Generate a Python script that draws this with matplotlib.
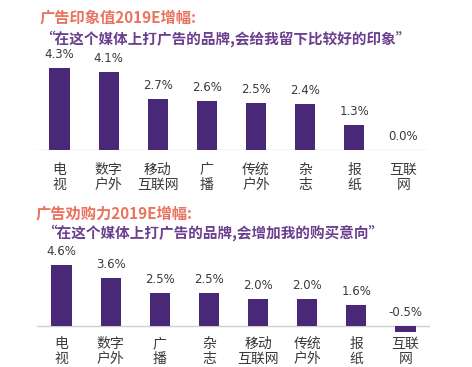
import matplotlib
matplotlib.use("Agg")
import matplotlib.pyplot as plt

plt.rcParams['font.family'] = ['Noto Sans CJK SC', 'DejaVu Sans']

# top chart data
top_title = "广告印象值2019E增幅:"
top_sub = "“在这个媒体上打广告的品牌,会给我留下比较好的印象”"
top_cats = ["电\n视", "数字\n户外", "移动\n互联网", "广\n播", "传统\n户外", "杂\n志", "报\n纸", "互联\n网"]
top_vals = [4.3, 4.1, 2.7, 2.6, 2.5, 2.4, 1.3, 0.0]

# bottom chart data
bot_title = "广告劝购力2019E增幅:"
bot_sub = "“在这个媒体上打广告的品牌,会增加我的购买意向”"
bot_cats = ["电\n视", "数字\n户外", "广\n播", "杂\n志", "移动\n互联网", "传统\n户外", "报\n纸", "互联\n网"]
bot_vals = [4.6, 3.6, 2.5, 2.5, 2.0, 2.0, 1.6, -0.5]

W, H = 472, 367
bar_color = "#4a2878"
title_color = "#e9735e"
sub_color = "#6a3f8e"
text_color = "#3a3a3a"

fig = plt.figure(figsize=(W / 100, H / 100), dpi=100)
fig.patch.set_facecolor("white")


def px_axes(left, top, right, bottom):
    return fig.add_axes([left / W, 1 - bottom / H, (right - left) / W, (bottom - top) / H])


def draw(ax, cats, vals, ylim, lab_off):
    x = range(len(vals))
    ax.bar(x, vals, width=0.41, color=bar_color)
    ax.set_xlim(-0.5, len(vals) - 0.5)
    ax.set_ylim(*ylim)
    ax.axhline(0, color="#cfcfcf", lw=1.0, zorder=0)
    for i, v in enumerate(vals):
        ax.annotate("%.1f%%" % v, (i, max(v, 0)), xytext=(0, 5), textcoords="offset points",
                    ha="center", va="bottom", fontsize=8.5, color=text_color,
                    family=["DejaVu Sans"])
        ax.annotate(cats[i], (i, 0), xytext=(0, lab_off), textcoords="offset points",
                    ha="center", va="top", fontsize=10, color=text_color, linespacing=1.1)
    ax.axis("off")


ax1 = px_axes(35, 55, 428, 150)
draw(ax1, top_cats, top_vals, (0, 5), -9)

ax2 = px_axes(37, 253, 430, 339)
draw(ax2, bot_cats, bot_vals, (-1, 5.5), -8)

fig.text(40 / W, 1 - 17 / H, top_title, color=title_color, fontsize=11, fontweight="bold", va="center")
fig.text(40 / W, 1 - 39 / H, top_sub, color=sub_color, fontsize=10.5, fontweight="bold", va="center")
fig.text(36 / W, 1 - 213 / H, bot_title, color=title_color, fontsize=11, fontweight="bold", va="center")
fig.text(42 / W, 1 - 233 / H, bot_sub, color=sub_color, fontsize=10.5, fontweight="bold", va="center")

fig.savefig("out.png", dpi=100)
